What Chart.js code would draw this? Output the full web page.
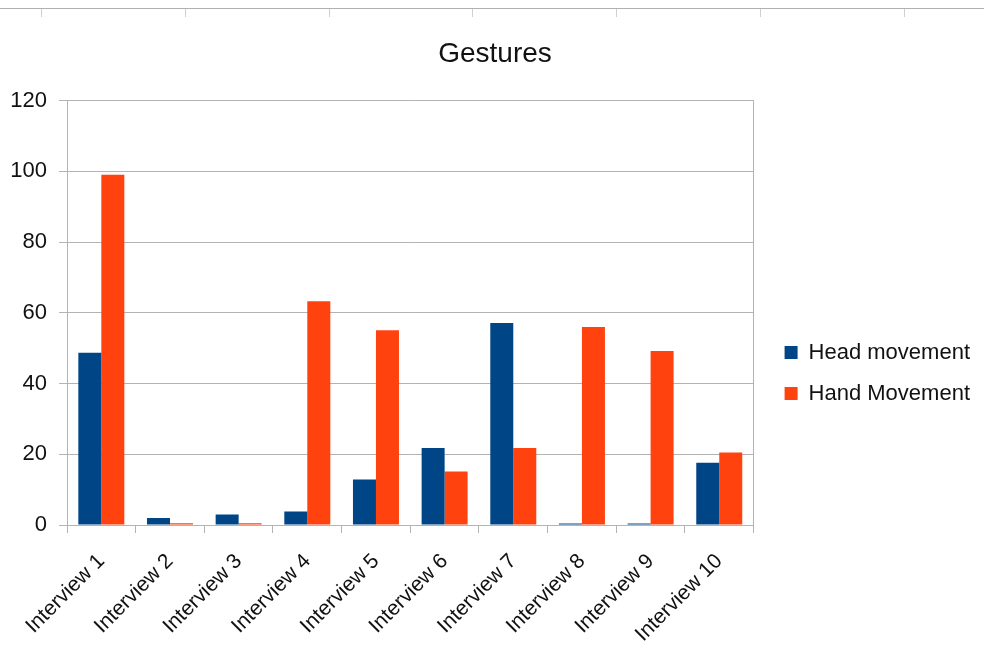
<!DOCTYPE html>
<html>
<head>
<meta charset="utf-8">
<script src="https://cdn.jsdelivr.net/npm/chart.js@4/dist/chart.umd.min.js"></script>
<style>
html,body{margin:0;padding:0;background:#fff;}
#wrap{width:984px;height:652px;position:relative;}
</style>
</head>
<body>
<div id="wrap"><canvas id="c" width="984" height="652"></canvas></div>
<script>
const categories = ["Interview 1","Interview 2","Interview 3","Interview 4","Interview 5","Interview 6","Interview 7","Interview 8","Interview 9","Interview 10"];
const headMovement = [48.7, 2.0, 3.0, 3.8, 12.9, 21.8, 57.1, 0.4, 0.4, 17.6];
const handMovement = [99, 0.5, 0.5, 63.3, 55.1, 15.1, 21.8, 56.0, 49.2, 20.5];
const yTicks = [0, 20, 40, 60, 80, 100, 120];

const FONT = "'Liberation Sans', Arial, sans-serif";
const GRID = '#b3b3b3';
const TEXT = '#111111';

const sheetDecor = {
  id: 'sheetDecor',
  beforeDraw(chart) {
    const ctx = chart.ctx;
    ctx.save();
    ctx.strokeStyle = '#b0b0b0';
    ctx.lineWidth = 1;
    ctx.beginPath();
    ctx.moveTo(0, 8.5); ctx.lineTo(chart.width, 8.5);
    ctx.stroke();
    ctx.strokeStyle = '#d0d0d0';
    ctx.beginPath();
    for (let x = 41; x < chart.width; x += 143.8) {
      const px = Math.round(x) + 0.5;
      ctx.moveTo(px, 9); ctx.lineTo(px, 17);
    }
    ctx.stroke();
    ctx.restore();
  }
};

new Chart(document.getElementById('c'), {
  type: 'bar',
  data: {
    labels: categories,
    datasets: [
      { label: 'Head movement', data: headMovement, backgroundColor: '#004586', borderWidth: 0, yAxisID: 'y' },
      { label: 'Hand Movement', data: handMovement, backgroundColor: '#ff420e', borderWidth: 0, yAxisID: 'y' }
    ]
  },
  plugins: [sheetDecor],
  options: {
    responsive: false,
    animation: false,
    devicePixelRatio: 1,
    layout: { padding: { left: 10, right: 4, top: 20, bottom: 8 } },
    datasets: { bar: { categoryPercentage: 0.67, barPercentage: 1.0 } },
    plugins: {
      title: {
        display: true, text: 'Gestures', color: TEXT,
        font: { family: FONT, size: 28, weight: 'normal' },
        padding: { top: 17, bottom: 30 }
      },
      legend: {
        position: 'right',
        maxWidth: 320,
        title: { display: true, text: ' ', font: { family: FONT, size: 10 }, padding: { top: 70, bottom: 0 } },
        labels: {
          color: TEXT, boxWidth: 13, boxHeight: 13, padding: 19,
          font: { family: FONT, size: 22 }
        }
      },
      tooltip: { enabled: false }
    },
    scales: {
      x: {
        afterFit(axis) { axis.height = 119; axis.paddingLeft = 0; axis.paddingRight = 0; },
        grid: { offset: true, drawOnChartArea: false, color: GRID, tickLength: 8 },
        border: { color: GRID },
        ticks: { color: TEXT, font: { family: FONT, size: 21 }, maxRotation: 45, minRotation: 45, padding: 16 }
      },
      y: {
        min: 0, max: 120,
        afterBuildTicks(axis) { axis.ticks = yTicks.map(v => ({ value: v })); },
        afterFit(axis) { axis.width = 57; },
        grid: { color: GRID, tickLength: 8 },
        border: { color: GRID },
        ticks: { color: TEXT, font: { family: FONT, size: 22 }, padding: 12 }
      },
      y2: {
        position: 'right', min: 0, max: 120,
        afterFit(axis) { axis.width = 12; },
        grid: { display: false },
        border: { display: true, color: GRID },
        ticks: { display: false }
      }
    }
  }
});
</script>
</body>
</html>
